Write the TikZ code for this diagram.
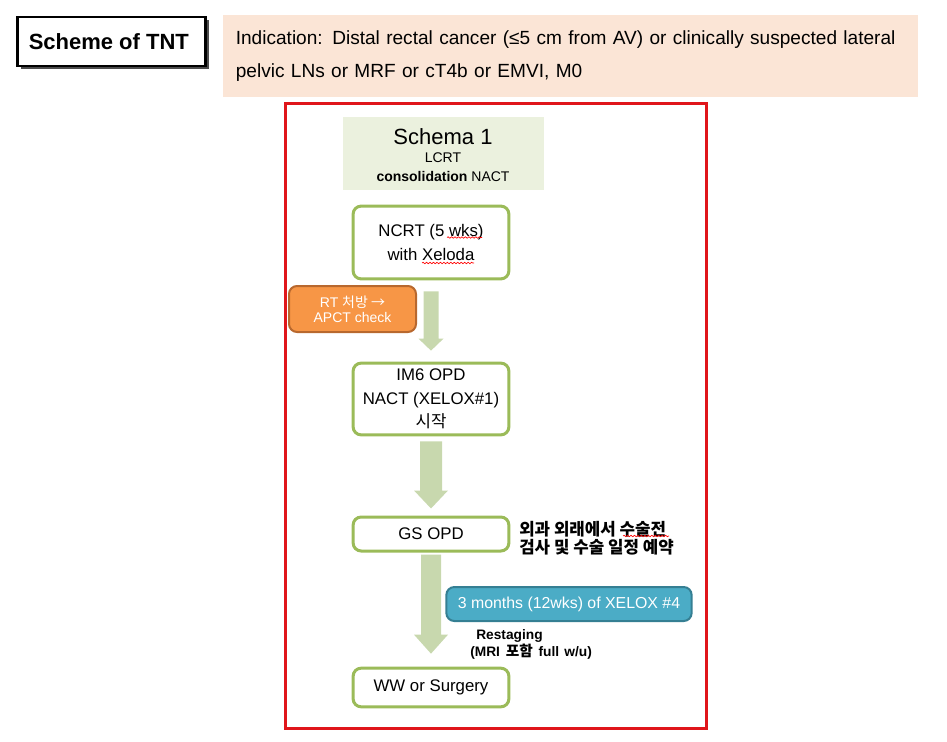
\documentclass[tikz,border=0pt]{standalone}
\usepackage{fontspec}
\setmainfont{Liberation Sans}
\newfontfamily\kr{Noto Sans CJK KR}
\usetikzlibrary{calc,shadows,decorations.pathmorphing}
\definecolor{peach}{HTML}{FBE5D6}
\definecolor{framered}{HTML}{E0161B}
\definecolor{schemafill}{HTML}{EBF1DE}
\definecolor{olive}{HTML}{9BBB59}
\definecolor{arrowgreen}{HTML}{C8D8AE}
\definecolor{orangefill}{HTML}{F79646}
\definecolor{orangeline}{HTML}{B8682E}
\definecolor{bluefill}{HTML}{4BACC6}
\definecolor{blueline}{HTML}{357F93}
\newcommand\fs[2]{\fontsize{#1}{#2}\selectfont}
% #1 from node, #2 to node, #3 start gap, #4 end gap, #5 shaft half, #6 head half, #7 head length (px)
\newcommand\fatarrow[7]{%
  \fill[arrowgreen] let \p1=(#1.south), \p2=(#2.north) in
  ({\x1-#5*0.75pt},{\y1-#3*0.75pt}) -- ({\x1+#5*0.75pt},{\y1-#3*0.75pt})
  -- ({\x1+#5*0.75pt},{\y2+#4*0.75pt+#7*0.75pt}) -- ({\x1+#6*0.75pt},{\y2+#4*0.75pt+#7*0.75pt})
  -- (\x1,{\y2+#4*0.75pt})
  -- ({\x1-#6*0.75pt},{\y2+#4*0.75pt+#7*0.75pt}) -- ({\x1-#5*0.75pt},{\y2+#4*0.75pt+#7*0.75pt}) -- cycle;}
\begin{document}
\begin{tikzpicture}[x=0.75pt,y=-0.75pt,
  stepbox/.style={draw=olive, line width=2.25pt, rounded corners=6pt, fill=white,
    align=center, inner sep=0pt, minimum width=116.8pt, font=\fs{12.6}{17.6}},
  notebox/.style={rounded corners=6pt, line width=1.5pt, align=center, inner sep=0pt, text=white},
  squiggle/.style={draw=red, line width=0.5pt, decorate,
    decoration={snake, amplitude=0.55pt, segment length=2.6pt}}]
\useasboundingbox (0,0) rectangle (947,742);

% header
\node[draw=black, line width=1.6pt, fill=white, minimum width=141pt, minimum height=37pt,
  font=\fs{16.5}{20}\bfseries, text depth=0pt,
  drop shadow={shadow xshift=2.4pt, shadow yshift=-2.4pt, fill=black, opacity=0.7}]
  (title) at (111.5,41.5) {\hspace*{-4pt}Scheme of TNT};
\node[fill=peach, minimum width=518.25pt, minimum height=61.5pt, text width=505pt,
  align=left, inner xsep=8pt, inner ysep=0pt, font=\fs{14.3}{24.75}]
  (ind) at (570.5,56) {\hspace*{1.5pt}Indication: Distal rectal cancer (≤5 cm from AV) or clinically suspected lateral\\
  \hspace*{1.5pt}pelvic LNs or MRF or cT4b or EMVI, M0};

% red frame
\node[draw=framered, line width=2.25pt, minimum width=315.75pt, minimum height=468.75pt, inner sep=0pt]
  (frame) at (496,416) {};

% schema box
\node[fill=schemafill, minimum width=150.5pt, minimum height=54.5pt, inner sep=0pt] (schema) at (443.5,153.5) {};
\node[font=\fs{16.5}{20}, inner sep=0pt] (schemaT) at (443,136.5) {Schema 1};
\node[font=\fs{10.5}{12}, inner sep=0pt] (schemaL) at (443,158) {LCRT};
\node[font=\fs{10.5}{12}, inner sep=0pt] (schemaC) at (443,176) {\textbf{consolidation} NACT};

% steps
\node[stepbox, minimum height=54.6pt] (ncrt) at (431,242.5) {NCRT (5 wks)\\with Xeloda};
\node[stepbox, minimum height=53.8pt] (im6) at (431,399) {IM6 OPD\\NACT (XELOX\#1)\\{\kr 시작}};
\node[stepbox, minimum height=25.5pt] (gs) at (431,534) {GS OPD};
\node[stepbox, minimum height=29pt] (ww) at (431,687.5) {WW or Surgery};

% arrows
\fatarrow{ncrt}{im6}{11}{11}{7.5}{12.5}{12}
\fatarrow{im6}{gs}{5}{7}{11}{17}{18}
\fatarrow{gs}{ww}{2}{13}{10}{17}{19}

% side notes
\node[notebox, draw=orangeline, fill=orangefill, minimum width=95.25pt, minimum height=34.5pt,
  font=\fs{10.5}{11.5}] (rt) at (352.5,309) {RT {\kr 처방 →}\\APCT check};
\node[notebox, draw=blueline, fill=bluefill, minimum width=184pt, minimum height=25.5pt,
  font=\fs{11.9}{14}] (xelox) at (569,604) {3 months (12wks) of XELOX \#4};
\node[anchor=west, align=left, inner sep=0pt, font=\kr\bfseries\fs{12.6}{13.5}]
  (gsnote) at (519,538) {외과 외래에서 수술전\\검사 및 수술 일정 예약};
\node[anchor=west, align=left, inner sep=0pt, font=\bfseries\fs{10.3}{12.75}]
  (restage) at (470,644.5) {\hspace{4.5pt}Restaging\\(MRI\hspace{1.5pt} {\kr\fs{11}{12.75}포함}\hspace{1.5pt} full\hspace{1pt} w/u)};

% spell-check marks
\path[squiggle] (447,237.5) -- (482,237.5);
\path[squiggle] (422,263) -- (474,263);
\path[squiggle] (623,536) -- (669,536);
\end{tikzpicture}
\end{document}
